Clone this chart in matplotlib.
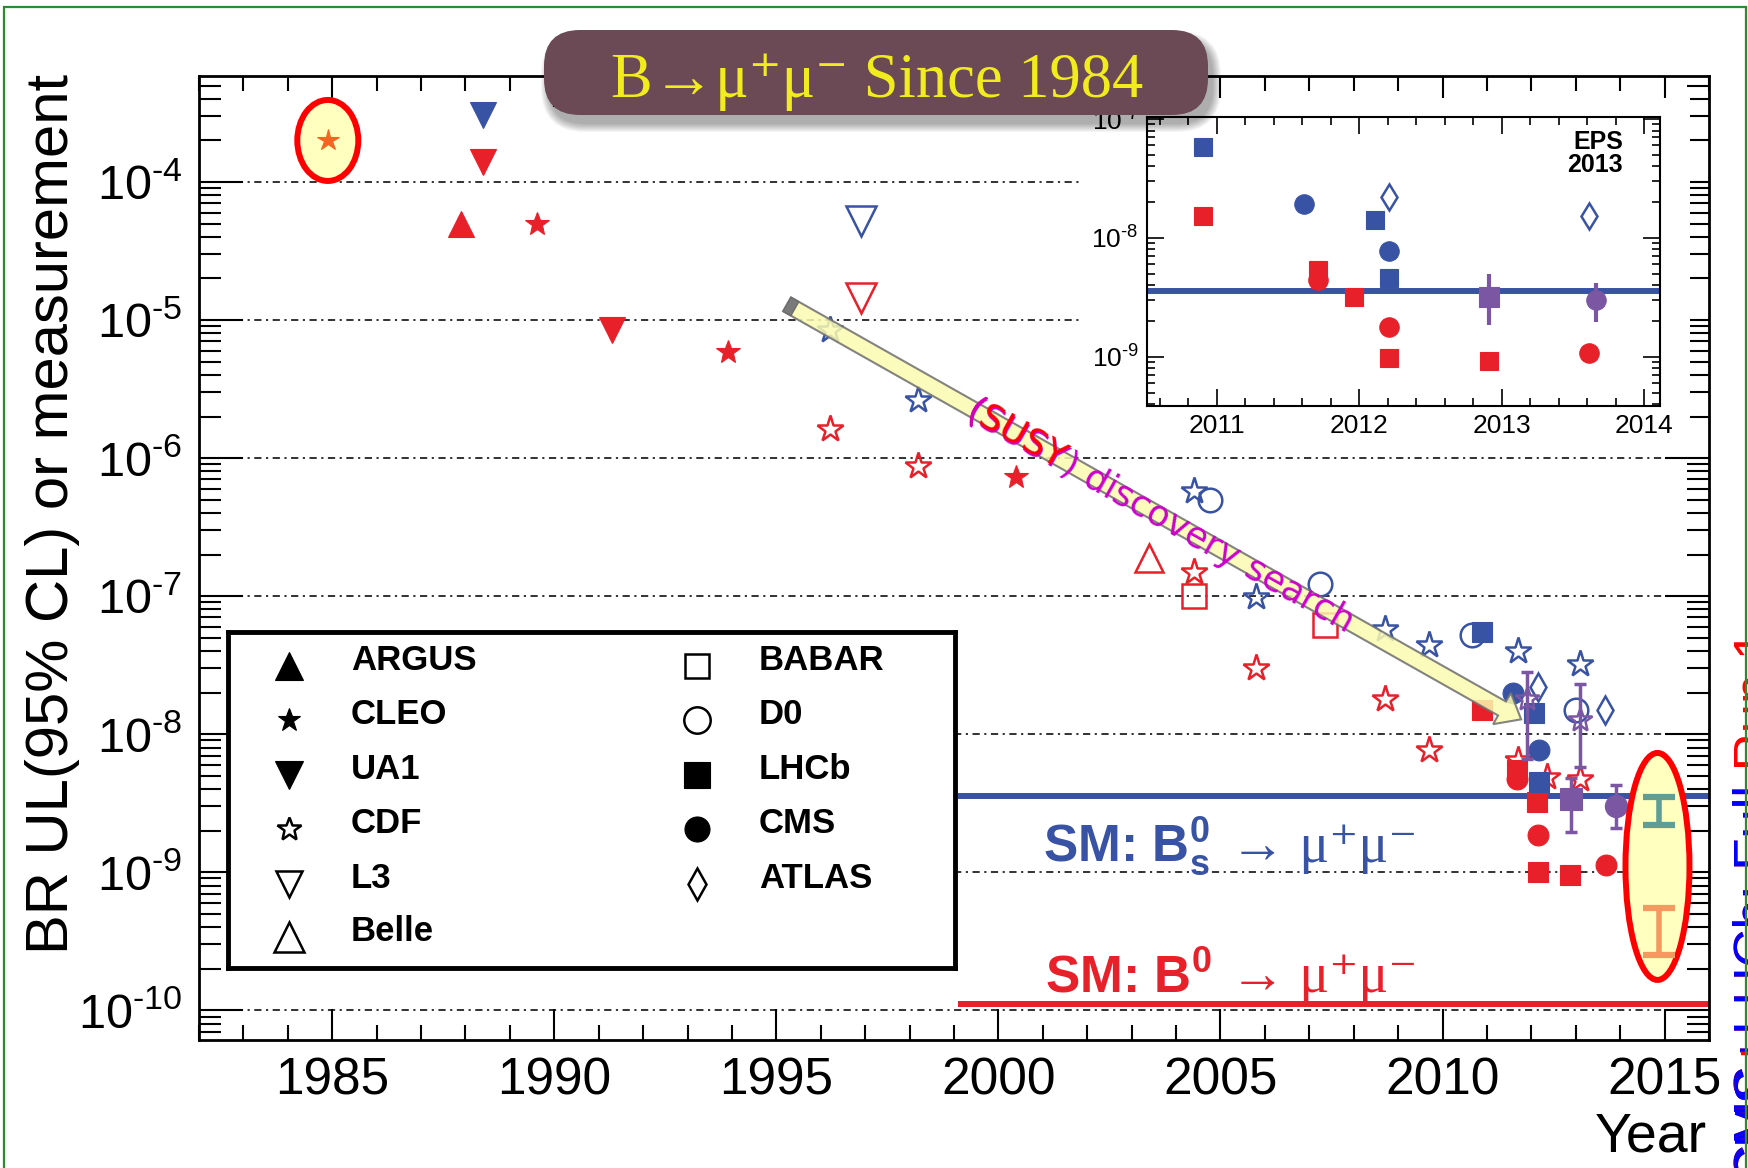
import numpy as np
import matplotlib
matplotlib.use("Agg")
import matplotlib.pyplot as plt
from matplotlib.patches import Ellipse, FancyBboxPatch, FancyArrow, Rectangle
from matplotlib.transforms import IdentityTransform
from matplotlib.ticker import MultipleLocator, LogLocator, FuncFormatter, NullFormatter

W, H = 1749, 1168

plt.rcParams['font.family'] = ['Liberation Sans', 'DejaVu Sans']
plt.rcParams['mathtext.fontset'] = 'custom'
plt.rcParams['mathtext.rm'] = 'Liberation Sans'
plt.rcParams['mathtext.it'] = 'Liberation Sans:italic'
plt.rcParams['mathtext.bf'] = 'Liberation Sans:bold'

RED = '#e8202a'
BLUE = '#3953a4'
PURPLE = '#7b56a3'
ORANGE = '#f26522'
TEAL = '#5e9e96'
LORANGE = '#f29a60'
SERIF = ['Liberation Serif', 'DejaVu Serif']

# ---- data (year, branching ratio / upper limit) ----
first_year, first_val = 1984.9, 2.0e-4          # first search, highlighted

argus_bd_years = [1987.9]
argus_bd = [5.0e-5]
cleo_bd_years = [1989.6, 1993.9, 2000.4]
cleo_bd = [5.0e-5, 5.9e-6, 7.3e-7]
ua1_bs_years = [1988.4]
ua1_bs = [3.05e-4]
ua1_bd_years = [1988.4, 1991.3]
ua1_bd = [1.4e-4, 8.4e-6]
l3_bs_years = [1996.9]
l3_bs = [5.2e-5]
l3_bd_years = [1996.9]
l3_bd = [1.44e-5]
cdf_bs_years = [1996.2, 1998.2, 2004.4, 2005.8, 2008.7, 2009.7, 2011.7, 2013.1]
cdf_bs = [8.4e-6, 2.65e-6, 5.8e-7, 9.8e-8, 5.8e-8, 4.4e-8, 4.0e-8, 3.2e-8]
cdf_bd_years = [1996.2, 1998.2, 2004.4, 2005.8, 2008.7, 2009.7, 2011.7, 2012.35, 2013.1]
cdf_bd = [1.63e-6, 8.7e-7, 1.5e-7, 3.0e-8, 1.8e-8, 7.7e-9, 6.5e-9, 4.9e-9, 4.7e-9]
belle_bd_years = [2003.4]
belle_bd = [1.9e-7]
babar_bd_years = [2004.4, 2007.35]
babar_bd = [1.0e-7, 6.2e-8]
d0_bs_years = [2004.76, 2007.25, 2010.66, 2013.0]
d0_bs = [5.0e-7, 1.23e-7, 5.2e-8, 1.5e-8]
lhcb_bs_years = [2010.88, 2012.06, 2012.18]
lhcb_bs = [5.5e-8, 1.42e-8, 4.5e-9]
lhcb_bd_years = [2010.88, 2011.68, 2012.12, 2012.16, 2012.88]
lhcb_bd = [1.5e-8, 5.5e-9, 3.2e-9, 1.0e-9, 9.5e-10]
cms_bs_years = [2011.58, 2012.18]
cms_bs = [1.98e-8, 7.7e-9]
cms_bd_years = [2011.68, 2012.16, 2013.69]
cms_bd = [4.7e-9, 1.85e-9, 1.12e-9]
atlas_bs_years = [2012.16, 2013.66]
atlas_bs = [2.2e-8, 1.5e-8]

# measurements with errors (value, low, high)
cdf_meas_years = [2011.9, 2013.1]
cdf_meas = [1.8e-8, 1.26e-8]
cdf_meas_lo = [6.6e-9, 5.8e-9]
cdf_meas_hi = [2.8e-8, 2.3e-8]
lhcb_meas_years = [2012.89]
lhcb_meas = [3.4e-9]
lhcb_meas_lo = [1.94e-9]
lhcb_meas_hi = [4.85e-9]
cms_meas_years = [2013.91]
cms_meas = [3.0e-9]
cms_meas_lo = [2.1e-9]
cms_meas_hi = [4.25e-9]

# CMS+LHCb combination
comb_year = 2014.87
comb_bs, comb_bs_lo, comb_bs_hi = 2.8e-9, 2.2e-9, 3.5e-9
comb_bd, comb_bd_lo, comb_bd_hi = 3.9e-10, 2.5e-10, 5.5e-10

# Standard Model predictions
sm_bs = 3.56e-9
sm_bd = 1.1e-10
sm_start = 1999.1

# inset (EPS 2013 zoom)
in_lhcb_bs_years = [2010.9, 2012.11, 2012.21]
in_lhcb_bs = [5.8e-8, 1.41e-8, 4.6e-9]
in_lhcb_bd_years = [2010.9, 2011.71, 2011.96, 2012.21, 2012.91]
in_lhcb_bd = [1.52e-8, 5.4e-9, 3.2e-9, 9.7e-10, 9.3e-10]
in_cms_bs_years = [2011.61, 2012.21]
in_cms_bs = [1.92e-8, 7.8e-9]
in_cms_bd_years = [2011.71, 2012.21, 2013.61]
in_cms_bd = [4.4e-9, 1.77e-9, 1.07e-9]
in_atlas_bs_years = [2012.21, 2013.61]
in_atlas_bs = [2.2e-8, 1.52e-8]
in_lhcb_meas = (2012.91, 3.2e-9, 1.85e-9, 4.95e-9)
in_cms_meas = (2013.66, 3.03e-9, 1.97e-9, 4.2e-9)

# annotation anchors (data coords)
arrow_from = (1995.24, 1.3e-5)
arrow_to = (2011.77, 1.28e-8)
highlight_2 = (2014.84, 1.1e-9)

legend_left = ['ARGUS', 'CLEO', 'UA1', 'CDF', 'L3', 'Belle']
legend_left_mk = ['^', '*', 'v', '*', 'v', '^']
legend_left_fill = [True, True, True, False, False, False]
legend_right = ['BABAR', 'D0', 'LHCb', 'CMS', 'ATLAS']
legend_right_mk = ['s', 'o', 's', 'o', 'd']
legend_right_fill = [False, False, True, True, False]


def fx(x):
    return x / W


def fy(y):
    return 1 - y / H


def pow10(v, pos):
    return r'$\mathregular{10^{\text{-}%d}}$' % abs(int(round(np.log10(v))))


def draw(axis, xs, ys, marker, color, ms, filled=True, z=3):
    axis.plot(xs, ys, ls='none', marker=marker, ms=ms,
              mfc=color if filled else 'none', mec=color,
              mew=0.8 if filled else 1.8, zorder=z)


def meas(axis, xs, ys, lo, hi, marker, ms, filled=True, lw=2.5, cap=4):
    yerr = [np.array(ys) - np.array(lo), np.array(hi) - np.array(ys)]
    axis.errorbar(xs, ys, yerr=yerr, fmt='none', ecolor=PURPLE, elinewidth=lw,
                  capsize=cap, capthick=lw, zorder=3)
    draw(axis, xs, ys, marker, PURPLE, ms, filled, z=3)


fig = plt.figure(figsize=(W / 100, H / 100), dpi=100)

# ---- main axes ----
ax = fig.add_axes([fx(199), fy(1040), (1709 - 199) / W, (1040 - 76) / H], zorder=0)
ax.set_yscale('log')
ax.set_xlim(1982, 2016)
ax.set_ylim(10 ** -10.216, 10 ** -3.232)
ax.xaxis.set_major_locator(MultipleLocator(5))
ax.xaxis.set_minor_locator(MultipleLocator(1))
ax.yaxis.set_major_locator(LogLocator(base=10, numticks=20))
ax.yaxis.set_minor_locator(LogLocator(base=10, subs=np.arange(2, 10), numticks=20))
ax.yaxis.set_major_formatter(FuncFormatter(pow10))
ax.yaxis.set_minor_formatter(NullFormatter())
ax.tick_params(which='both', direction='in', top=True, right=True, width=1.5)
ax.tick_params(axis='x', which='major', length=22, labelsize=37, pad=12)
ax.tick_params(axis='x', which='minor', length=11)
ax.tick_params(axis='y', which='major', length=32, labelsize=35, pad=12)
ax.tick_params(axis='y', which='minor', length=16)
for sp in ax.spines.values():
    sp.set_linewidth(2)

for k in range(-10, -3):
    ax.axhline(10.0 ** k, color='#222222', lw=1.3, ls=(0, (4, 2.5, 1.2, 2.5)), zorder=1)

ax.plot([sm_start, 2016], [sm_bs, sm_bs], color=BLUE, lw=4.3, zorder=2, solid_capstyle='butt')
ax.plot([sm_start, 2016], [sm_bd, sm_bd], color=RED, lw=4.3, zorder=2, solid_capstyle='butt')

draw(ax, argus_bd_years, argus_bd, '^', RED, 19)
draw(ax, cleo_bd_years, cleo_bd, '*', RED, 18)
draw(ax, ua1_bs_years, ua1_bs, 'v', BLUE, 19)
draw(ax, ua1_bd_years, ua1_bd, 'v', RED, 19)
draw(ax, l3_bs_years, l3_bs, 'v', BLUE, 21, False)
draw(ax, l3_bd_years, l3_bd, 'v', RED, 21, False)
draw(ax, cdf_bs_years, cdf_bs, '*', BLUE, 20, False)
draw(ax, cdf_bd_years, cdf_bd, '*', RED, 20, False)
draw(ax, belle_bd_years, belle_bd, '^', RED, 20, False)
draw(ax, babar_bd_years, babar_bd, 's', RED, 17, False)
draw(ax, d0_bs_years, d0_bs, 'o', BLUE, 17, False)
draw(ax, cms_bd_years, cms_bd, 'o', RED, 15)
draw(ax, lhcb_bd_years, lhcb_bd, 's', RED, 15)
draw(ax, cms_bs_years, cms_bs, 'o', BLUE, 15)
draw(ax, lhcb_bs_years, lhcb_bs, 's', BLUE, 15)
draw(ax, atlas_bs_years, atlas_bs, 'd', BLUE, 14, False)
meas(ax, cdf_meas_years, cdf_meas, cdf_meas_lo, cdf_meas_hi, '*', 18, False)
meas(ax, lhcb_meas_years, lhcb_meas, lhcb_meas_lo, lhcb_meas_hi, 's', 16)
meas(ax, cms_meas_years, cms_meas, cms_meas_lo, cms_meas_hi, 'o', 16)

# highlight ellipses (pixel sized, centred on data)
c1 = ax.transData.transform((first_year, first_val))
ax.add_patch(Ellipse(c1, 61, 81, fc='#ffffc0', ec='#ff0000', lw=4.3,
                     transform=IdentityTransform(), zorder=2.5))
draw(ax, [first_year], [first_val], '*', ORANGE, 16, z=4)
c2 = ax.transData.transform(highlight_2)
ax.add_patch(Ellipse(c2, 64, 227, fc='#ffffc0', ec='#ff0000', lw=4.3,
                     transform=IdentityTransform(), zorder=4))
ax.errorbar([comb_year], [comb_bs], yerr=[[comb_bs - comb_bs_lo], [comb_bs_hi - comb_bs]],
            fmt='none', ecolor=TEAL, elinewidth=4, capsize=11.5, capthick=4.5, zorder=5)
ax.errorbar([comb_year], [comb_bd], yerr=[[comb_bd - comb_bd_lo], [comb_bd_hi - comb_bd]],
            fmt='none', ecolor=LORANGE, elinewidth=4, capsize=11.5, capthick=4.5, zorder=5)

# discovery-search arrow
a0 = ax.transData.transform(arrow_from)
a1 = ax.transData.transform(arrow_to)
ax.add_patch(FancyArrow(a0[0], a0[1], a1[0] - a0[0], a1[1] - a0[1], width=16,
                        head_width=36, head_length=22, length_includes_head=True,
                        fc='#fbfbb0', ec='#6e6e6e', lw=1.5, alpha=0.85,
                        transform=IdentityTransform(), zorder=6))
d = (a1 - a0) / np.hypot(*(a1 - a0))
ax.add_patch(FancyArrow(a0[0], a0[1], d[0] * 9, d[1] * 9, width=16, head_width=16,
                        head_length=0.01, fc='#7a7a7a', ec='#6e6e6e', lw=1.0,
                        transform=IdentityTransform(), zorder=6))


def layered_text(x, y, pieces, rotation, size, family, z=8):
    for s, c in pieces:
        fig.text(x, H - y, s, color=c, rotation=rotation, rotation_mode='anchor',
                 ha='left', va='baseline', fontsize=size, family=family,
                 transform=IdentityTransform(), zorder=z)


layered_text(964, 418, [('(SUSY) discovery search', '#cc00cc'), ('(SUSY', '#ff0000'),
                        ('(', '#cc00cc')], -29.4, 26, ['DejaVu Sans'])

# SM labels
fig.text(1043, H - 862, r'SM: B$^{\mathbf{0}}_{\mathbf{s}}$', color=BLUE, fontweight='bold',
         fontsize=37, transform=IdentityTransform(), va='baseline')
fig.text(1230, H - 862, '\u2192 \u03bc\u207a\u03bc\u207b', color=BLUE, fontsize=40,
         family=SERIF, transform=IdentityTransform(), va='baseline')
fig.text(1045, H - 992, r'SM: B$^{\mathbf{0}}$', color=RED, fontweight='bold',
         fontsize=37, transform=IdentityTransform(), va='baseline')
fig.text(1230, H - 992, '\u2192 \u03bc\u207a\u03bc\u207b', color=RED, fontsize=40,
         family=SERIF, transform=IdentityTransform(), va='baseline')

# axis titles
fig.text(fx(53), fy(74), 'BR UL(95% CL) or measurement', rotation=90,
         ha='center', va='top', fontsize=43)
fig.text(fx(1707), fy(1152), 'Year', ha='right', va='baseline', fontsize=40)

# ---- legend ----
lg = fig.add_axes([fx(228), fy(968), (955 - 228) / W, (968 - 632) / H], zorder=2)
lg.set_xlim(228, 955)
lg.set_ylim(968, 632)
lg.set_xticks([])
lg.set_yticks([])
for sp in lg.spines.values():
    sp.set_linewidth(3.5)
rows = [666, 720, 775, 829, 884, 937]
left_ms = [20, 17, 20, 18, 19, 21]
right_ms = [17, 19, 19, 18, 16]
for i, name in enumerate(legend_left):
    draw(lg, [289], [rows[i]], legend_left_mk[i], 'black', left_ms[i], legend_left_fill[i])
    lg.text(351, rows[i] + 4, name, fontsize=25, fontweight='bold', va='baseline')
for i, name in enumerate(legend_right):
    draw(lg, [697], [rows[i]], legend_right_mk[i], 'black', right_ms[i], legend_right_fill[i])
    lg.text(759, rows[i] + 4, name, fontsize=25, fontweight='bold', va='baseline')

# ---- inset ----
fig.add_artist(Rectangle((1080, H - 448), 610, 350, fc='white', ec='none',
                         transform=IdentityTransform(), zorder=1))
ins = fig.add_axes([fx(1147), fy(406), (1660 - 1147) / W, (406 - 117) / H], zorder=2)
ins.set_yscale('log')
ins.set_xlim(2010.51, 2014.11)
ins.set_ylim(10 ** -9.414, 10 ** -6.983)
ins.xaxis.set_major_locator(MultipleLocator(1))
ins.xaxis.set_minor_locator(MultipleLocator(0.2))
ins.yaxis.set_major_locator(LogLocator(base=10, numticks=20))
ins.yaxis.set_minor_locator(LogLocator(base=10, subs=np.arange(2, 10), numticks=20))
ins.yaxis.set_major_formatter(FuncFormatter(pow10))
ins.yaxis.set_minor_formatter(NullFormatter())
ins.tick_params(which='both', direction='in', top=True, right=True, width=1.2, labelsize=19)
ins.tick_params(which='major', length=12, pad=6)
ins.tick_params(which='minor', length=6)
for sp in ins.spines.values():
    sp.set_linewidth(1.5)
ins.axhline(sm_bs, color=BLUE, lw=4.3, zorder=2)
draw(ins, in_lhcb_bs_years, in_lhcb_bs, 's', BLUE, 13)
draw(ins, in_lhcb_bd_years, in_lhcb_bd, 's', RED, 13)
draw(ins, in_cms_bs_years, in_cms_bs, 'o', BLUE, 14)
draw(ins, in_cms_bd_years, in_cms_bd, 'o', RED, 14)
draw(ins, in_atlas_bs_years, in_atlas_bs, 'd', BLUE, 13, False)
for m, mk in ((in_lhcb_meas, 's'), (in_cms_meas, 'o')):
    meas(ins, [m[0]], [m[1]], [m[2]], [m[3]], mk, 14, lw=3, cap=0)
fig.text(1623, H - 130, 'EPS\n2013', ha='right', va='top', fontsize=18,
         fontweight='bold', transform=IdentityTransform(), linespacing=0.95)

# ---- title box ----
for i in range(9):
    fig.add_artist(FancyBboxPatch((544 + 5 - i, H - 115 - 9 - i), 664 + 2 * i, 85 + 2 * i,
                                  boxstyle='round,pad=0,rounding_size=%d' % (36 + i),
                                  fc='black', ec='none', alpha=0.04,
                                  transform=IdentityTransform(), zorder=9))
fig.add_artist(FancyBboxPatch((544, H - 115), 664, 85,
                              boxstyle='round,pad=0,rounding_size=36',
                              fc='#6c4a55', ec='none', transform=IdentityTransform(), zorder=10))
fig.text(877, H - 97, 'B\u2192\u03bc\u207a\u03bc\u207b Since 1984', ha='center', va='baseline',
         color='#f0ec1e', fontsize=45, family=SERIF, transform=IdentityTransform(), zorder=11)

# ---- right edge note (cut off in the original) ----
layered_text(1771, 1182, [('CMS+LHCb: Full Run 1', '#ff0000'), ('CMS+LHCb: Full', '#0000ff'),
                          ('CMS+', '#ff0000'), ('CMS', '#0000ff')], 90, 38,
             ['Liberation Sans', 'DejaVu Sans'], z=12)

# green frame
fig.add_artist(Rectangle((4, -10), 1742, H - 7 + 10, fc='none', ec='#2a8c2a', lw=1.6,
                         transform=IdentityTransform(), zorder=13))

fig.savefig('out.png', dpi=100)
